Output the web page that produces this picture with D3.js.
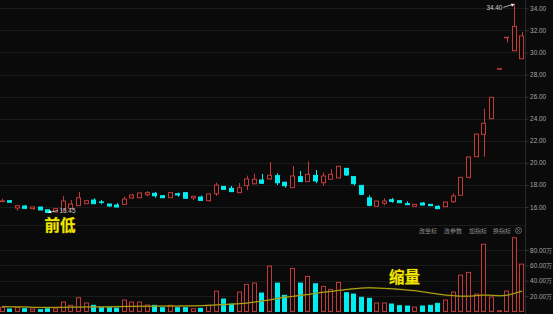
<!DOCTYPE html>
<html><head><meta charset="utf-8">
<script src="https://cdn.jsdelivr.net/npm/d3@7/dist/d3.min.js"></script>
<style>html,body{margin:0;padding:0;background:#0a0a0a;overflow:hidden}svg{display:block}</style>
</head><body><svg id="c" width="553" height="314"></svg>
<script>
const opens  = [16.52,16.57,15.91,16.09,15.85,16.00,15.75,15.55,15.66,15.88,16.12,16.30,16.63,16.46,16.27,16.18,16.24,16.82,16.84,17.11,17.24,17.02,16.84,17.20,17.30,16.82,16.90,16.57,17.20,17.87,17.69,17.30,17.93,18.10,18.45,18.54,18.84,18.24,17.75,18.75,18.30,18.87,18.20,18.51,18.63,19.50,18.75,17.96,16.82,16.06,16.33,16.66,16.57,16.30,16.06,16.36,16.24,16.06,16.03,16.48,17.06,18.69,20.56,22.58,24.00,28.52,31.38,30.16,29.43];
const highs  = [16.75,16.62,16.20,16.18,16.03,16.00,15.75,15.88,17.00,16.63,17.36,16.60,16.79,16.63,16.29,16.36,16.93,17.18,17.30,17.45,17.36,17.09,17.32,17.30,17.32,16.99,17.03,17.20,18.20,17.90,17.90,18.17,18.84,19.02,18.99,20.08,19.05,18.30,19.71,19.26,20.14,19.35,19.14,19.41,19.71,19.54,18.77,17.98,17.06,16.56,16.79,16.82,16.59,16.51,16.26,16.45,16.26,16.15,16.47,17.24,18.71,20.55,22.63,24.90,25.96,28.53,31.38,34.40,31.85];
const lows   = [16.45,16.40,15.66,15.80,15.73,15.73,15.45,15.52,15.62,15.85,16.10,16.28,16.30,16.24,16.00,15.98,16.22,16.72,16.82,16.97,16.84,16.82,16.82,16.93,16.77,16.63,16.58,16.48,17.00,17.58,17.37,17.28,17.54,18.08,18.08,18.45,17.99,17.75,17.73,18.28,18.28,18.15,17.93,18.49,18.60,18.81,17.96,17.13,16.06,16.04,16.15,16.39,16.37,16.19,16.04,16.16,16.10,15.83,16.01,16.36,17.04,18.60,20.54,20.56,23.98,28.52,30.90,30.14,29.41];
const closes = [16.55,16.43,16.12,15.88,16.00,15.73,15.50,15.85,16.54,16.27,16.84,16.57,16.30,16.41,16.09,16.00,16.72,17.09,17.27,17.30,17.02,16.84,17.30,17.09,16.79,16.97,16.60,17.18,17.99,17.60,17.39,17.75,18.54,18.51,18.15,18.87,18.20,17.93,18.81,18.30,18.96,18.36,18.81,18.96,19.69,18.90,18.11,17.15,16.15,16.54,16.54,16.51,16.39,16.21,16.24,16.18,16.12,15.85,16.45,17.00,18.69,20.53,22.61,23.58,25.94,28.53,31.38,32.37,31.50];
const volumes = [5.3,3.1,5.3,3.5,3.1,2.2,3.5,3.5,12.2,7.9,17.8,10.9,7.9,5.3,5.3,4.4,14.8,12.2,12.2,8.3,7.9,4.8,7.9,4.8,4.8,3.5,4.0,7.9,26.5,16.1,9.6,25.2,35.2,36.9,23.9,59.0,36.9,20.9,56.0,36.9,45.6,36.0,32.6,28.7,37.8,24.3,22.6,18.3,17.0,10.9,10.9,9.6,7.4,7.0,5.7,7.0,7.9,10.5,14.8,25.2,47.3,50.8,22.6,87.5,18.7,0.9,26.5,96.0,61.6];
const volMA = [6.1,6.0,5.9,5.8,5.3,5.2,5.2,5.2,5.3,5.5,5.6,5.8,5.8,5.8,5.9,6.2,6.4,6.6,6.7,6.7,6.8,7.0,7.0,7.0,7.1,7.2,7.4,7.9,8.4,9.0,9.4,10.0,10.8,12.2,13.5,15.0,16.8,18.5,19.5,20.9,22.0,23.5,25.0,26.0,27.3,28.5,29.5,30.4,30.8,30.4,30.0,29.5,28.7,27.8,27.0,25.5,24.0,22.6,21.3,20.5,19.8,19.8,20.5,21.3,21.0,20.4,21.0,23.5,26.5];
const priceTicks = [16,18,20,22,24,26,28,30,32,34];
const volTicks = [20,40,60,80];
const toolbarLabels = ["改坐标","改参数","加指标","换指标"];
const highLabel = "34.40", lowLabel = "15.45";

const RED = "#c23a3a", CYAN = "#00eef0", GRID = "#1b1b1b", TXT = "#a8a8a8";
const svg = d3.select("#c");
const W = 525.6;
const idx = d3.range(opens.length);
const x = d3.scaleBand().domain(idx).range([-0.5, 524.6]).paddingInner(0.33).paddingOuter(0);
const y = d3.scaleLinear().domain([16, 34]).range([207, 8.3]);
const yv = d3.scaleLinear().domain([0, 80]).range([311.4, 250]);
const bw = x.bandwidth();
const cx = i => x(i) + bw / 2;

// grids
svg.append("g").selectAll("line").data(priceTicks).join("line")
  .attr("x1", 0).attr("x2", W).attr("y1", d => Math.round(y(d)) + 0.5).attr("y2", d => Math.round(y(d)) + 0.5)
  .attr("stroke", GRID);
svg.append("g").selectAll("line").data(volTicks).join("line")
  .attr("x1", 0).attr("x2", W).attr("y1", d => Math.round(yv(d)) + 0.5).attr("y2", d => Math.round(yv(d)) + 0.5)
  .attr("stroke", GRID);
svg.append("line").attr("x1", 0).attr("x2", W).attr("y1", 225.5).attr("y2", 225.5).attr("stroke", GRID);

// right axes
const axP = d3.axisRight(y).tickValues(priceTicks).tickFormat(d3.format(".2f")).tickSize(3);
const gP = svg.append("g").attr("transform", `translate(${W},0)`).call(axP);
const axV = d3.axisRight(yv).tickValues(volTicks).tickFormat(d => d3.format(".2f")(d) + "万").tickSize(3);
const gV = svg.append("g").attr("transform", `translate(${W},0)`).call(axV);
[gP, gV].forEach(g => {
  g.select(".domain").remove();
  g.selectAll("line").attr("stroke", "#333");
  g.selectAll("text").attr("fill", TXT).attr("font-family", "Liberation Sans, Arial, sans-serif").attr("font-size", 6.4).attr("x", 4.5);
});
svg.append("line").attr("x1", W).attr("x2", W).attr("y1", 0).attr("y2", 314).attr("stroke", "#2c2c2c");

// candles
const up = i => closes[i] >= opens[i];
const cg = svg.append("g");
cg.selectAll("line.w").data(idx).join("line")
  .attr("x1", i => Math.round(cx(i)) + 0.5).attr("x2", i => Math.round(cx(i)) + 0.5)
  .attr("y1", i => y(highs[i])).attr("y2", i => y(lows[i]))
  .attr("stroke", i => up(i) ? RED : CYAN);
cg.selectAll("rect").data(idx).join("rect")
  .attr("x", i => Math.round(x(i)) + 0.5)
  .attr("width", Math.round(bw) - 1)
  .attr("y", i => y(Math.max(opens[i], closes[i])))
  .attr("height", i => Math.max(0.6, Math.abs(y(opens[i]) - y(closes[i]))))
  .attr("fill", i => up(i) ? "#0a0a0a" : CYAN)
  .attr("stroke", i => up(i) ? RED : CYAN)
  .attr("stroke-width", 1);

// volume
const vg = svg.append("g");
vg.selectAll("rect").data(idx).join("rect")
  .attr("x", i => Math.round(x(i)) + 0.5)
  .attr("width", Math.round(bw) - 1)
  .attr("y", i => yv(volumes[i]))
  .attr("height", i => Math.max(0.5, yv(0) - yv(volumes[i])))
  .attr("fill", i => up(i) ? "#0a0a0a" : CYAN)
  .attr("stroke", i => up(i) ? RED : CYAN);
const line = d3.line().x(i => cx(i)).y(i => yv(volMA[i])).curve(d3.curveMonotoneX);
svg.append("path").datum(idx).attr("d", line).attr("fill", "none").attr("stroke", "#5c5a10").attr("stroke-width", 1.8).attr("opacity", 0.55);
svg.append("path").datum(idx).attr("d", line).attr("fill", "none").attr("stroke", "#c9b812").attr("stroke-width", 0.9);

// high / low markers
const hi = d3.maxIndex(highs), lo = d3.minIndex(lows);
const hx = cx(hi), hy = y(highs[hi]);
svg.append("line").attr("x1", hx - 11).attr("y1", hy + 3.5).attr("x2", hx - 1).attr("y2", hy + 0.3).attr("stroke", "#ddd").attr("stroke-width", 0.8);
svg.append("path").attr("d", `M${hx},${hy} l-3.5,-0.2 l1.2,3 z`).attr("fill", "#fff");
svg.append("text").attr("x", hx - 12).attr("y", hy + 6).attr("text-anchor", "end").attr("fill", "#d0d0d0")
  .attr("font-family", "Liberation Sans, Arial, sans-serif").attr("font-size", 6.4).text(highLabel);
const lx = cx(lo), ly = y(lows[lo]);
svg.append("line").attr("x1", lx + 2).attr("y1", ly - 1).attr("x2", lx + 10).attr("y2", ly - 2.5).attr("stroke", "#ddd").attr("stroke-width", 0.8);
svg.append("path").attr("d", `M${lx},${ly - 0.5} l3,-2.2 l0.4,3 z`).attr("fill", "#fff");
svg.append("text").attr("x", lx + 11.5).attr("y", ly + 0.3).attr("fill", "#c8c8c8")
  .attr("font-family", "Liberation Sans, Arial, sans-serif").attr("font-size", 6.4).text(lowLabel);

// annotations
const ann = [["前低", 44.5, 231], ["缩量", 389, 282.5]];
svg.selectAll("text.ann").data(ann).join("text").attr("class", "ann")
  .attr("x", d => d[1]).attr("y", d => d[2]).text(d => d[0])
  .attr("font-family", "Noto Sans CJK SC").attr("font-weight", "bold").attr("font-size", 15.5)
  .attr("fill", "#f2e600").attr("stroke", "#6a6400").attr("stroke-width", 0.6).attr("paint-order", "stroke");

// toolbar
const tbx = [419, 444, 469, 493];
svg.selectAll("text.tb").data(toolbarLabels).join("text").attr("class", "tb")
  .attr("x", (d, i) => tbx[i]).attr("y", 233).text(d => d)
  .attr("font-family", "Noto Sans CJK SC").attr("font-size", 6).attr("fill", "#8c8c8c");
svg.append("circle").attr("cx", 518.5).attr("cy", 230.5).attr("r", 3).attr("fill", "none").attr("stroke", "#8c8c8c").attr("stroke-width", 0.7);
svg.append("path").attr("d", "M517,229 l3,3 M520,229 l-3,3").attr("stroke", "#8c8c8c").attr("stroke-width", 0.6);
</script></body></html>
